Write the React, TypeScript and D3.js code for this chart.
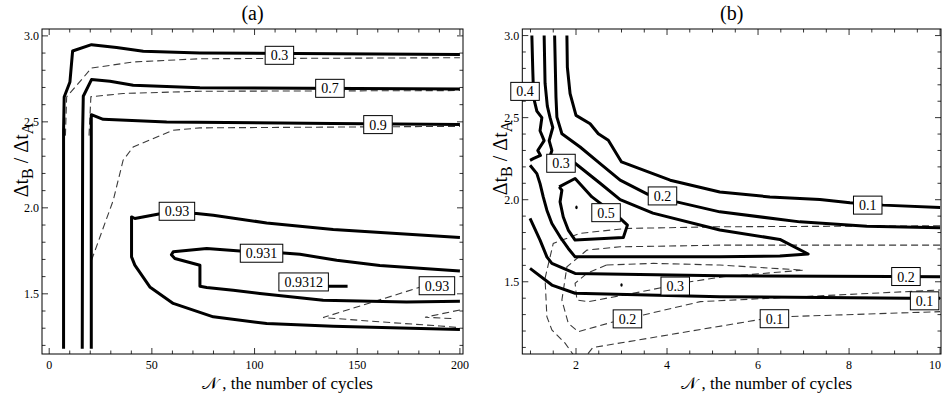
import * as d3 from "d3";

type Pt = [number, number];

// ---------- panel (a) ----------
const aXTicks = [0, 50, 100, 150, 200];
const aYTicks = [1.5, 2.0, 2.5, 3.0];

const aSolid03: Pt[] = [[7.0, 1.18], [7.0, 2.45], [7.3, 2.645], [10.1, 2.732], [11.4, 2.912], [20.6, 2.949], [32.8, 2.932], [45.8, 2.91], [73.4, 2.901], [200, 2.891]];
const aDash03: Pt[] = [[7.9, 2.42], [8.5, 2.645], [20.6, 2.813], [40.8, 2.848], [73.4, 2.867], [200, 2.873]];
const aSolid07: Pt[] = [[16.1, 1.18], [16.3, 2.45], [16.6, 2.649], [20.6, 2.746], [29.6, 2.736], [40.9, 2.713], [73.4, 2.699], [200, 2.691]];
const aDash07: Pt[] = [[19.4, 2.42], [20.3, 2.646], [36.0, 2.665], [73.4, 2.678], [200, 2.682]];
const aSolid09: Pt[] = [[20.5, 1.18], [20.5, 2.542], [26.3, 2.515], [57.2, 2.499], [138.2, 2.49], [200, 2.484]];
const aDash09: Pt[] = [[20.6, 1.695], [31.2, 2.044], [36.0, 2.277], [40.9, 2.354], [60.4, 2.451], [73.4, 2.465], [200, 2.474]];
const aSolid093: Pt[] = [[200, 1.827], [138.3, 1.874], [105.9, 1.912], [79.9, 1.957], [71.8, 1.967], [54.7, 1.967], [41.7, 1.938], [40.1, 1.947], [40.1, 1.715], [41.7, 1.667], [49.0, 1.54], [60.4, 1.444], [79.9, 1.366], [105.9, 1.327], [138.3, 1.312], [200, 1.292]];
const aSolid0931: Pt[] = [[200, 1.633], [161.0, 1.665], [140.0, 1.695], [122.1, 1.73], [114.0, 1.738], [92.9, 1.749], [76.7, 1.763], [60.4, 1.744], [59.5, 1.727], [61.2, 1.705], [73.4, 1.666], [73.4, 1.544], [76.7, 1.537], [89.6, 1.521], [102.6, 1.502], [133.4, 1.463], [174.0, 1.453], [200, 1.457]];
const aSolid09312: Pt[] = [[115, 1.544], [145.3, 1.544]];
const aDash093a: Pt[] = [[182.1, 1.544], [133.4, 1.362], [161.0, 1.337], [190.3, 1.313], [200, 1.303]];
const aDash093b: Pt[] = [[200, 1.406], [183, 1.364], [197.6, 1.355]];

const aLabels = [
  { text: "0.3", at: [112.1, 2.887] as Pt },
  { text: "0.7", at: [136.7, 2.695] as Pt },
  { text: "0.9", at: [160.1, 2.484] as Pt },
  { text: "0.93", at: [62.2, 1.98] as Pt },
  { text: "0.931", at: [103.4, 1.736] as Pt },
  { text: "0.9312", at: [123.9, 1.569] as Pt },
  { text: "0.93", at: [188.8, 1.547] as Pt },
];

// ---------- panel (b) ----------
const bXTicks = [2, 4, 6, 8, 10];
const bYTicks = [1.5, 2.0, 2.5, 3.0];

const bSolid04: Pt[] = [[1.03, 3.0], [1.05, 2.79], [1.07, 2.62], [1.14, 2.54], [1.25, 2.5], [1.21, 2.42], [1.3, 2.36], [1.16, 2.3], [1.22, 2.27], [1.06, 2.25], [0.99, 2.24]];
const bSolid03: Pt[] = [[1.3, 3.0], [1.32, 2.71], [1.37, 2.57], [1.43, 2.5], [1.49, 2.44], [1.41, 2.36], [1.47, 2.3], [1.4, 2.24], [1.67, 2.222], [1.98, 2.222], [2.53, 2.1], [2.97, 2.0], [3.69, 1.918], [5.16, 1.815], [6.48, 1.758], [7.1, 1.669], [6.48, 1.657], [5.16, 1.652], [1.98, 1.652], [1.83, 1.703], [1.65, 1.774], [1.47, 1.855], [1.36, 1.936], [1.28, 2.017], [1.21, 2.098], [1.14, 2.159], [0.99, 2.21]];
const bSolid02: Pt[] = [[1.53, 3.0], [1.56, 2.625], [1.58, 2.503], [1.69, 2.402], [2.09, 2.321], [2.53, 2.22], [2.97, 2.119], [3.58, 2.033], [3.9, 2.021], [4.21, 1.987], [5.16, 1.926], [6.92, 1.865], [8.39, 1.839], [10.0, 1.829]];
const bSolid01: Pt[] = [[1.8, 3.0], [1.81, 2.807], [1.87, 2.646], [2.0, 2.514], [2.31, 2.463], [2.49, 2.402], [2.71, 2.362], [3.0, 2.23], [4.07, 2.119], [5.16, 2.047], [6.26, 2.017], [7.36, 2.001], [8.02, 1.981], [8.75, 1.967], [10.0, 1.953]];
const bSolid05: Pt[] = [[1.63, 2.078], [1.98, 2.129], [2.35, 2.017], [2.97, 1.886], [3.13, 1.845], [3.04, 1.77], [1.98, 1.754], [1.83, 1.815], [1.72, 1.895], [1.65, 1.987], [1.69, 2.058], [1.63, 2.078]];
const bSolid02low: Pt[] = [[0.99, 1.886], [1.21, 1.754], [1.36, 1.652], [1.47, 1.612], [1.98, 1.551], [5.16, 1.537], [8.92, 1.532], [10.0, 1.531]];
const bSolid01low: Pt[] = [[0.99, 1.582], [1.47, 1.48], [1.98, 1.43], [5.16, 1.409], [9.34, 1.399], [10.0, 1.399]];
const bDash03: Pt[] = [[2.67, 1.602], [2.24, 1.551], [1.98, 1.491], [2.02, 1.389], [2.27, 1.379], [3.41, 1.438], [4.51, 1.5], [5.24, 1.531], [7.0, 1.571], [5.16, 1.602], [3.7, 1.612], [2.67, 1.602]];
const bDash02: Pt[] = [[10.0, 1.723], [5.16, 1.723], [2.97, 1.713], [2.24, 1.693], [1.8, 1.591], [1.69, 1.389], [1.83, 1.247], [2.05, 1.196], [2.81, 1.255], [3.48, 1.298], [4.73, 1.379], [10.0, 1.45]];
const bDash01: Pt[] = [[10.0, 1.841], [5.16, 1.835], [3.11, 1.825], [2.09, 1.795], [1.5, 1.734], [1.32, 1.521], [1.36, 1.288], [1.47, 1.207], [1.76, 1.126], [1.98, 1.04], [2.2, 1.04], [2.37, 1.099], [6.36, 1.285], [10.0, 1.318]];
const bDots: Pt[] = [[2.01, 1.953], [3.0, 1.48]];

const bLabels = [
  { text: "0.4", at: [0.88, 2.66] as Pt },
  { text: "0.3", at: [1.67, 2.222] as Pt },
  { text: "0.2", at: [3.9, 2.023] as Pt },
  { text: "0.1", at: [8.41, 1.967] as Pt },
  { text: "0.5", at: [2.66, 1.921] as Pt },
  { text: "0.2", at: [9.25, 1.532] as Pt },
  { text: "0.1", at: [9.66, 1.384] as Pt },
  { text: "0.3", at: [4.18, 1.474] as Pt },
  { text: "0.2", at: [3.13, 1.274] as Pt },
  { text: "0.1", at: [6.36, 1.275] as Pt },
];

const SERIF = "'Liberation Serif', 'Times New Roman', serif";
const PAGE_W = 942;

interface Curve { pts: Pt[]; dashed?: boolean }
interface PanelProps {
  id: string;
  title: string;
  left: number; right: number; top: number; bottom: number;
  xDomain: [number, number]; yDomain: [number, number];
  xTicks: number[]; yTicks: number[];
  xMinor: number[]; yMinor: number[];
  curves: Curve[];
  labels: { text: string; at: Pt }[];
  dots?: Pt[];
  yLabelX: number;
  yLabelY: number;
}

function labelWidth(t: string) {
  let w = 0;
  for (const c of t) w += c === "." ? 3.5 : 7;
  return w + 11;
}

function Panel(p: PanelProps) {
  const x = d3.scaleLinear().domain(p.xDomain).range([p.left, p.right]);
  const y = d3.scaleLinear().domain(p.yDomain).range([p.bottom, p.top]);
  const line = d3.line<Pt>().x((d) => x(d[0])).y((d) => y(d[1]));
  const cx = (p.left + p.right) / 2;
  const isMajorX = (v: number) => p.xTicks.some((t) => Math.abs(t - v) < 1e-6);
  const isMajorY = (v: number) => p.yTicks.some((t) => Math.abs(t - v) < 1e-6);
  return (
    <g>
      <defs>
        <clipPath id={`clip-${p.id}`}>
          <rect x={p.left} y={p.top} width={p.right - p.left} height={p.bottom - p.top} />
        </clipPath>
      </defs>
      <text x={cx} y={20} textAnchor="middle" fontSize={20} fontFamily={SERIF}>{p.title}</text>

      <g clipPath={`url(#clip-${p.id})`}>
        {p.curves.filter((c) => c.dashed).map((c, i) => (
          <path key={`d${i}`} d={line(c.pts) ?? ""} fill="none" stroke="#3a3a3a" strokeWidth={1.1} strokeDasharray="7,4" />
        ))}
        {p.curves.filter((c) => !c.dashed).map((c, i) => (
          <path key={`s${i}`} d={line(c.pts) ?? ""} fill="none" stroke="#000" strokeWidth={3} strokeLinejoin="round" />
        ))}
        {(p.dots ?? []).map((d, i) => (
          <ellipse key={i} cx={x(d[0])} cy={y(d[1])} rx={1.2} ry={1.8} fill="#000" />
        ))}
      </g>

      {/* frame and ticks */}
      <rect x={p.left} y={p.top} width={p.right - p.left} height={p.bottom - p.top} fill="none" stroke="#000" strokeWidth={1} />
      {p.xMinor.map((v, i) => {
        const len = isMajorX(v) ? 6 : 3.5;
        return (
          <g key={`xt${i}`} stroke="#000" strokeWidth={0.8}>
            <line x1={x(v)} x2={x(v)} y1={p.bottom} y2={p.bottom - len} />
            <line x1={x(v)} x2={x(v)} y1={p.top} y2={p.top + len} />
          </g>
        );
      })}
      {p.yMinor.map((v, i) => {
        const len = isMajorY(v) ? 6 : 3.5;
        return (
          <g key={`yt${i}`} stroke="#000" strokeWidth={0.8}>
            <line x1={p.left} x2={p.left + len} y1={y(v)} y2={y(v)} />
            <line x1={p.right} x2={p.right - len} y1={y(v)} y2={y(v)} />
          </g>
        );
      })}
      {p.xTicks.map((v) => (
        <text key={`xl${v}`} x={Math.min(x(v), PAGE_W - 7)} y={369} textAnchor="middle" fontSize={12} fontFamily={SERIF}>{String(v)}</text>
      ))}
      {p.yTicks.map((v) => (
        <text key={`yl${v}`} x={p.left - 3} y={y(v) + 4} textAnchor="end" fontSize={12} fontFamily={SERIF}>{v.toFixed(1)}</text>
      ))}

      {/* contour labels */}
      {p.labels.map((l, i) => {
        const w = labelWidth(l.text);
        const lx = x(l.at[0]);
        const ly = y(l.at[1]);
        return (
          <g key={`lb${i}`}>
            <rect x={lx - w / 2} y={ly - 9} width={w} height={18} fill="#fff" stroke="#000" strokeWidth={1} />
            <text x={lx} y={ly + 5} textAnchor="middle" fontSize={14} fontFamily={SERIF}>{l.text}</text>
          </g>
        );
      })}

      {/* axis labels */}
      <text x={cx + 35} y={389} textAnchor="middle" fontSize={17} fontFamily={SERIF}>
        𝒩 , the number of cycles
      </text>
      <text transform={`translate(${p.yLabelX},${p.yLabelY}) rotate(-90)`} textAnchor="middle" fontSize={20} fontFamily={SERIF}>
        Δt<tspan dy={5} fontSize={16}>B</tspan><tspan dy={-5}> / Δt</tspan><tspan dy={5} fontSize={16}>A</tspan>
      </text>
    </g>
  );
}

export default function App() {
  const aMinorX = d3.range(0, 201, 10);
  const aMinorY = d3.range(12, 31).map((v) => v / 10);
  const bMinorX = d3.range(2, 21).map((v) => v / 2);
  const bMinorY = d3.range(11, 31).map((v) => v / 10);
  return (
    <svg width={942} height={399} style={{ position: "absolute", left: 0, top: 0, background: "#fff" }}>
      <Panel
        id="a" title="(a)"
        left={42} right={463} top={29} bottom={354}
        xDomain={[-3.5, 201.5]} yDomain={[1.15, 3.04]}
        xTicks={aXTicks} yTicks={aYTicks} xMinor={aMinorX} yMinor={aMinorY}
        curves={[
          { pts: aDash03, dashed: true }, { pts: aDash07, dashed: true }, { pts: aDash09, dashed: true },
          { pts: aDash093a, dashed: true }, { pts: aDash093b, dashed: true },
          { pts: aSolid03 }, { pts: aSolid07 }, { pts: aSolid09 }, { pts: aSolid093 },
          { pts: aSolid0931 }, { pts: aSolid09312 },
        ]}
        labels={aLabels}
        yLabelX={28}
        yLabelY={160}
      />
      <Panel
        id="b" title="(b)"
        left={522.3} right={941} top={29} bottom={354}
        xDomain={[0.82, 10.02]} yDomain={[1.06, 3.04]}
        xTicks={bXTicks} yTicks={bYTicks} xMinor={bMinorX} yMinor={bMinorY}
        curves={[
          { pts: bDash03, dashed: true }, { pts: bDash02, dashed: true }, { pts: bDash01, dashed: true },
          { pts: bSolid04 }, { pts: bSolid03 }, { pts: bSolid02 }, { pts: bSolid01 }, { pts: bSolid05 },
          { pts: bSolid02low }, { pts: bSolid01low },
        ]}
        labels={bLabels}
        dots={bDots}
        yLabelX={507}
        yLabelY={158}
      />
    </svg>
  );
}
